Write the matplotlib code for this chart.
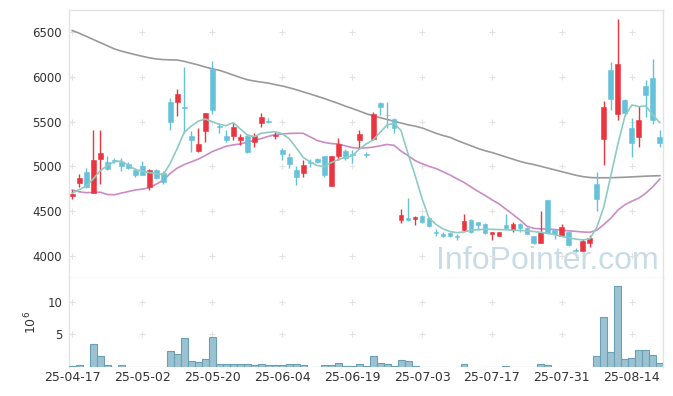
import numpy as np
import matplotlib
matplotlib.use("Agg")
import matplotlib.pyplot as plt

# daily OHLC (KRW), 85 trading days
opens = [4670, 4810, 4935, 4705, 5080, 5045, 5075, 5050, 5025, 4960,
         5000, 4770, 4955, 4930, 5720, 5725, 5665, 5335, 5175, 5400,
         6090, 5455, 5340, 5340, 5295, 5340, 5275, 5490, 5510, 5345,
         5185, 5105, 4960, 4925, 5045, 5080, 5115, 4785, 5115, 5170,
         5140, 5290, 5140, 5305, 5705, 5580, 5525, 4395, 4425, 4405,
         4445, 4420, 4265, 4245, 4250, 4220, 4290, 4400, 4375, 4355,
         4245, 4220, 4345, 4290, 4355, 4305, 4215, 4145, 4625, 4285,
         4225, 4260, 4060, 4055, 4140, 4805, 5305, 6080, 5585, 5740,
         5425, 5325, 5900, 5990, 5330]
highs = [4735, 4910, 4985, 5405, 5405, 5120, 5095, 5095, 5050, 4980,
         5060, 4965, 4965, 4950, 5760, 5870, 6110, 5390, 5430, 5600,
         6180, 5485, 5405, 5480, 5360, 5360, 5370, 5595, 5540, 5380,
         5200, 5145, 5005, 5070, 5080, 5095, 5120, 5120, 5315, 5190,
         5185, 5405, 5155, 5610, 5715, 5715, 5540, 4520, 4645, 4440,
         4450, 4430, 4295, 4270, 4270, 4245, 4465, 4405, 4380, 4365,
         4268, 4270, 4465, 4380, 4365, 4320, 4225, 4500, 4625, 4290,
         4355, 4280, 4090, 4185, 4230, 4940, 5730, 6170, 6645, 5750,
         5540, 5675, 5965, 6200, 5405]
lows = [4630, 4770, 4760, 4700, 4800, 4960, 5035, 4950, 4965, 4880,
        4900, 4740, 4855, 4800, 5405, 5560, 5375, 5155, 5165, 5275,
        5585, 5370, 5275, 5295, 5240, 5145, 5215, 5435, 5480, 5305,
        5070, 4980, 4790, 4885, 4990, 5040, 4880, 4785, 5070, 5070,
        5040, 5200, 5110, 5300, 5575, 5425, 5370, 4365, 4385, 4345,
        4370, 4325, 4225, 4210, 4205, 4175, 4275, 4255, 4290, 4245,
        4170, 4220, 4305, 4270, 4270, 4240, 4130, 4145, 4240, 4185,
        4215, 4105, 4045, 4050, 4100, 4500, 5015, 5630, 5520, 5570,
        5110, 5220, 5555, 5475, 5220]
closes = [4690, 4870, 4765, 5070, 5145, 4970, 5055, 5005, 4985, 4905,
          4905, 4960, 4875, 4820, 5500, 5815, 5655, 5290, 5255, 5595,
          5630, 5445, 5290, 5445, 5330, 5155, 5340, 5550, 5500, 5355,
          5140, 5025, 4880, 5010, 5035, 5045, 4905, 5115, 5250, 5095,
          5130, 5360, 5130, 5585, 5660, 5570, 5425, 4460, 4395, 4435,
          4380, 4335, 4255, 4215, 4215, 4210, 4385, 4265, 4345, 4250,
          4265, 4260, 4315, 4360, 4310, 4245, 4145, 4270, 4250, 4240,
          4320, 4115, 4050, 4165, 4195, 4630, 5660, 5750, 6145, 5600,
          5265, 5520, 5800, 5520, 5260]

# volume, millions of shares
volume = [0.1, 0.25, 0.05, 3.5, 1.75, 0.25, 0.05, 0.25, 0.05, 0.05,
          0.05, 0.05, 0.05, 0.05, 2.5, 2.05, 4.5, 0.87, 0.72, 1.28,
          4.67, 0.5, 0.4, 0.4, 0.4, 0.4, 0.25, 0.4, 0.25, 0.25,
          0.25, 0.5, 0.4, 0.25, 0.05, 0.05, 0.25, 0.35, 0.67, 0.2,
          0.2, 0.5, 0.2, 1.75, 0.67, 0.5, 0.2, 1.0, 0.87, 0.2,
          0.05, 0.05, 0.05, 0.05, 0.0, 0.05, 0.5, 0.05, 0.0, 0.05,
          0.05, 0.0, 0.2, 0.05, 0.05, 0.05, 0.05, 0.5, 0.35, 0.0,
          0.05, 0.05, 0.05, 0.0, 0.0, 1.75, 7.7, 2.35, 12.4, 1.2,
          1.45, 2.65, 2.65, 1.9, 0.67]

# moving averages
ma5 = [4700, 4740, 4780, 4860, 4950, 5010, 5050, 5060, 5015, 4965,
       4945, 4930, 4920, 4905, 5034, 5200, 5380, 5450, 5505, 5530,
       5500, 5470, 5455, 5489, 5420, 5351, 5332, 5370, 5380, 5388,
       5365, 5310, 5210, 5100, 5050, 5010, 4996, 5040, 5075, 5100,
       5116, 5190, 5250, 5295, 5380, 5463, 5482, 5400, 5140, 4900,
       4640, 4420, 4350, 4300, 4270, 4258, 4265, 4285, 4290, 4295,
       4295, 4292, 4290, 4285, 4282, 4278, 4270, 4260, 4250, 4235,
       4215, 4200, 4185, 4176, 4190, 4320, 4550, 4900, 5250, 5560,
       5687, 5668, 5676, 5575, 5489]
ma20 = [4735, 4715, 4705, 4708, 4710, 4685, 4682, 4700, 4718, 4735,
        4745, 4760, 4800, 4845, 4920, 4980, 5020, 5050, 5080, 5120,
        5165, 5195, 5225, 5240, 5250, 5270, 5290, 5310, 5335, 5355,
        5362, 5368, 5370, 5370, 5330, 5290, 5268, 5255, 5250, 5230,
        5210, 5202, 5207, 5215, 5230, 5245, 5235, 5170, 5120, 5065,
        5030, 5000, 4975, 4940, 4903, 4860, 4820, 4770, 4720, 4675,
        4625, 4580, 4520, 4460, 4400, 4330, 4305, 4300, 4297, 4293,
        4285, 4278, 4272, 4265, 4262, 4285, 4350, 4420, 4510, 4570,
        4610, 4645, 4700, 4772, 4858]
ma60 = [6520, 6490, 6455, 6420, 6385, 6350, 6315, 6290, 6270, 6250,
        6232, 6215, 6202, 6195, 6192, 6190, 6175, 6155, 6135, 6112,
        6092, 6075, 6050, 6022, 5995, 5970, 5955, 5943, 5932, 5915,
        5900, 5880, 5858, 5834, 5810, 5785, 5760, 5732, 5705, 5675,
        5648, 5620, 5590, 5565, 5545, 5525, 5505, 5485, 5465, 5450,
        5430, 5400, 5370, 5345, 5325, 5290, 5260, 5230, 5200, 5175,
        5155, 5130, 5105, 5080, 5055, 5035, 5020, 5000, 4980, 4960,
        4940, 4920, 4900, 4885, 4875, 4872, 4872, 4873, 4875, 4878,
        4882, 4886, 4890, 4893, 4895]

tick_pos = [0, 10, 20, 30, 40, 50, 60, 70, 80]
tick_labels = ["25-04-17", "25-05-02", "25-05-20", "25-06-04", "25-06-19",
               "25-07-03", "25-07-17", "25-07-31", "25-08-14"]
price_ticks = [4000, 4500, 5000, 5500, 6000, 6500]
vol_ticks = [5, 10]

UP = "#ea3540"
DOWN = "#66c1da"
FRAME = "#e3e3e3"
TXT = "#333333"

plt.rcParams["font.family"] = ["DejaVu Sans"]

fig = plt.figure(figsize=(6.73, 3.96), dpi=100)
ax = fig.add_axes([69 / 673, 118 / 396, 594 / 673, 268 / 396])
axv = fig.add_axes([69 / 673, 29 / 396, 594 / 673, 89 / 396], sharex=ax)

x = np.arange(len(closes))
o = np.array(opens, float)
c = np.array(closes, float)
up = c >= o
cols = np.where(up, UP, DOWN)

# watermark behind everything
ax.text(0.618, 0.035, "InfoPointer.com", transform=ax.transAxes,
        fontsize=23, family="Liberation Sans", color="#c9dce6",
        ha="left", va="baseline", zorder=0)

# grid crosses at tick intersections
gx, gy = np.meshgrid(tick_pos, price_ticks)
ax.scatter(gx.ravel(), gy.ravel(), marker="+", s=18, color="#e2e2e2",
           linewidths=0.8, zorder=1)
gx, gy = np.meshgrid(tick_pos, vol_ticks)
axv.scatter(gx.ravel(), gy.ravel(), marker="+", s=18, color="#e2e2e2",
            linewidths=0.8, zorder=1)

# candles
ax.vlines(x, lows, highs, colors=cols, linewidth=1.0, zorder=3)
body_low = np.minimum(o, c)
body_h = np.maximum(np.abs(c - o), 8)
ax.bar(x, body_h, bottom=body_low, width=0.7, color=cols, edgecolor=cols,
       linewidth=0.4, zorder=4)

ax.plot(x, ma60, color="#9a9a9a", linewidth=1.2, zorder=2)
ax.plot(x, ma20, color="#c98cc6", linewidth=1.2, zorder=2)
ax.plot(x, ma5, color="#8ecbc1", linewidth=1.2, zorder=5)

ax.set_xlim(-0.47, 84.45)
ax.set_ylim(3750, 6750)
ax.set_yticks(price_ticks)
ax.tick_params(axis="y", length=0, pad=5, labelsize=8.5, labelcolor=TXT)
ax.tick_params(axis="x", length=0, labelbottom=False)

# volume
v = np.array(volume)
m = v > 0
axv.bar(x[m], v[m], width=1.0, color="#9cc2d2", edgecolor="#6aa0b6",
        linewidth=0.8, zorder=3)
axv.set_ylim(0, 13.65)
axv.set_yticks(vol_ticks)
axv.set_ylabel(r"$10^6$", fontsize=9, color=TXT, labelpad=6)
axv.set_xticks(tick_pos)
axv.set_xticklabels(tick_labels)
axv.tick_params(axis="y", length=0, pad=5, labelsize=8.5, labelcolor=TXT)
axv.tick_params(axis="x", length=0, pad=3, labelsize=9, labelcolor=TXT)

for a in (ax, axv):
    for s in a.spines.values():
        s.set_color(FRAME)
        s.set_linewidth(1.0)
axv.spines["bottom"].set_visible(False)
axv.spines["top"].set_visible(False)

fig.savefig("out.png", dpi=100)
